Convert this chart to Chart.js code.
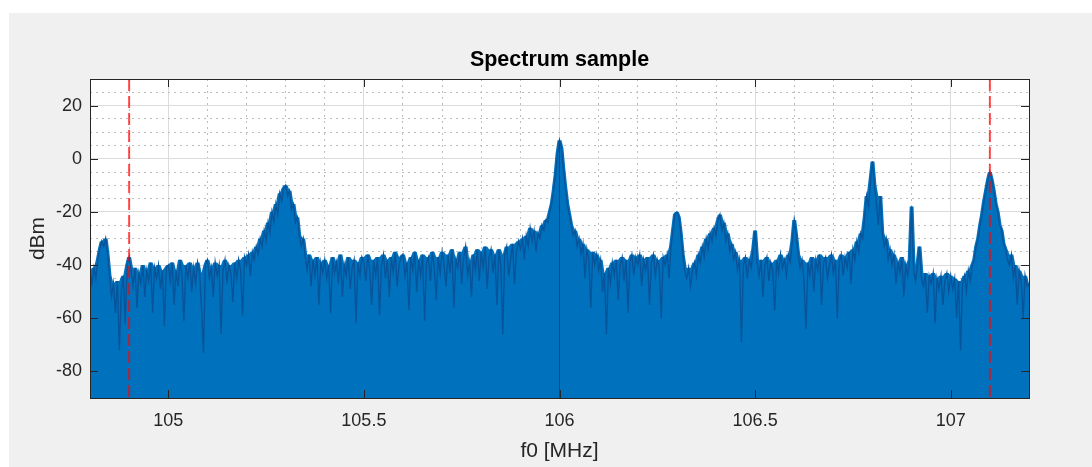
<!DOCTYPE html>
<html>
<head>
<meta charset="utf-8">
<title>Spectrum sample</title>
<script src="https://cdn.jsdelivr.net/npm/chart.js@4.4.1/dist/chart.umd.min.js"></script>
<style>
  html, body { margin: 0; padding: 0; background: #fff; }
  canvas { display: block; }
</style>
</head>
<body>
<canvas id="chart" width="1092" height="467"></canvas>
<script>
// spectrum bins: first bin and bin width in MHz
const freqStart = 104.8;
const freqStep = 0.005;

// power per bin in dBm, one row per 0.1 MHz
const dbm = [
  -42, -47, -41, -45, -38, -34, -31, -33, -30, -36, -44, -52, -47, -58, -46, -72, -50, -44, -62, -40,
  -37, -42, -48, -41, -56, -43, -47, -40, -52, -42, -46, -39, -58, -41, -45, -40, -49, -42, -63, -41,
  -40, -46, -39, -55, -42, -48, -38, -44, -61, -40, -45, -39, -50, -41, -47, -39, -43, -56, -73, -40,
  -38, -45, -41, -52, -39, -44, -40, -66, -42, -38, -47, -40, -43, -54, -39, -45, -38, -42, -59, -37,
  -40, -36, -44, -35, -38, -33, -36, -30, -33, -27, -31, -24, -28, -20, -24, -17, -21, -13, -16, -11,
  -10, -14, -12, -19, -17, -24, -22, -29, -33, -30, -37, -42, -36, -48, -38, -44, -37, -55, -39, -43,
  -38, -45, -40, -58, -37, -43, -39, -47, -36, -52, -40, -44, -37, -49, -41, -38, -62, -39, -44, -37,
  -39, -46, -36, -42, -55, -38, -44, -37, -59, -40, -36, -45, -38, -52, -37, -43, -35, -48, -40, -37,
  -36, -44, -39, -57, -37, -42, -35, -50, -38, -44, -36, -61, -39, -37, -46, -35, -41, -53, -37, -43,
  -35, -40, -48, -36, -43, -34, -56, -38, -41, -35, -47, -37, -33, -44, -39, -52, -36, -42, -34, -46,
  -35, -41, -33, -49, -37, -34, -43, -36, -55, -34, -40, -66, -36, -33, -44, -38, -32, -47, -35, -31,
  -34, -30, -38, -29, -33, -26, -31, -27, -35, -28, -30, -25, -27, -23, -24, -20, -17, -12, -6, 2,
  7, 4, -4, -11, -17, -21, -25, -29, -27, -33, -30, -36, -32, -45, -34, -38, -56, -35, -40, -36,
  -42, -38, -50, -43, -66, -41, -47, -39, -44, -38, -53, -40, -37, -46, -38, -58, -39, -36, -44, -37,
  -40, -36, -48, -38, -42, -37, -55, -39, -36, -44, -38, -41, -60, -37, -40, -36, -45, -33, -27, -21,
  -20, -22, -28, -36, -42, -45, -41, -48, -42, -39, -44, -36, -39, -33, -37, -30, -34, -28, -31, -26,
  -29, -23, -21, -27, -24, -31, -28, -35, -32, -38, -35, -42, -38, -69, -40, -37, -45, -38, -41, -34,
  -27, -39, -44, -38, -52, -40, -37, -46, -39, -42, -57, -38, -43, -36, -41, -38, -44, -36, -39, -31,
  -23, -29, -36, -41, -38, -46, -64, -39, -44, -37, -50, -38, -42, -36, -55, -39, -37, -45, -40, -36,
  -43, -38, -60, -39, -36, -44, -37, -41, -35, -47, -34, -38, -31, -35, -28, -30, -22, -14, -18, -8,
  -1, -10, -17, -25, -14, -28, -33, -30, -38, -34, -40, -36, -47, -39, -43, -37, -52, -40, -44, -38,
  -18, -42, -46, -40, -33, -45, -48, -43, -58, -44, -47, -43, -62, -45, -49, -44, -55, -46, -43, -50,
  -44, -49, -45, -60, -46, -72, -47, -44, -50, -42, -46, -40, -38, -33, -30, -25, -21, -16, -12, -8,
  -5, -8, -12, -17, -20, -25, -27, -32, -34, -38, -40, -36, -45, -40, -55, -42, -46, -60, -44, -48,
  -47
];

// channel edge markers (red dashed) and tuned centre
const markerFreqs = [104.9, 107.1];
const centerFreq = 106.0;

const xRange = [104.8, 107.2];
const yRange = [-90, 30];
const xTicks = [105, 105.5, 106, 106.5, 107];
const yTicks = [-80, -60, -40, -20, 0, 20];
const xMinorStep = 0.1;
const yMinorStep = 5;

const FONT = "'Liberation Sans', Arial, Helvetica, sans-serif";
const TEXT = '#262626';
const TITLE = 'Spectrum sample';

const freqAt = i => +(freqStart + i * freqStep).toFixed(3);
const trace = dbm.map((v, i) => ({ x: freqAt(i), y: v }));
// fill follows the per-pixel peak (max of neighbouring bins), the trace is drawn on top
const peakHold = dbm.map((v, i) => ({
  x: freqAt(i),
  y: Math.max(dbm[i - 1] ?? v, v, dbm[i + 1] ?? v)
}));
const centerIdx = Math.round((centerFreq - freqStart) / freqStep);

function minorTicks(lo, hi, step, majors) {
  const out = [];
  for (let v = lo + step; v < hi - step / 2; v += step) {
    const r = +v.toFixed(3);
    if (!majors.some(m => Math.abs(m - r) < 1e-6)) out.push({ value: r });
  }
  return out;
}

const panelBg = {
  id: 'panelBg',
  beforeDraw(chart) {
    const { ctx, chartArea: a } = chart;
    ctx.save();
    ctx.fillStyle = '#ffffff';
    ctx.fillRect(0, 0, chart.width, chart.height);
    ctx.fillStyle = '#f0f0f0';
    ctx.fillRect(9, 13, chart.width - 9, chart.height - 13);
    ctx.fillStyle = '#ffffff';
    ctx.fillRect(a.left, a.top, a.right - a.left, a.bottom - a.top);
    // title centred over the axes, like matlab
    ctx.fillStyle = '#000';
    ctx.font = 'bold 21.5px ' + FONT;
    ctx.textAlign = 'center';
    ctx.textBaseline = 'alphabetic';
    ctx.fillText(TITLE, (a.left + a.right) / 2, 66);
    ctx.restore();
  }
};

// box with inward ticks on all sides
const axesBox = {
  id: 'axesBox',
  afterDatasetsDraw(chart) {
    const { ctx, chartArea: a, scales } = chart;
    const len = 8;
    ctx.save();
    ctx.strokeStyle = TEXT;
    ctx.lineWidth = 1;
    ctx.beginPath();
    xTicks.forEach(v => {
      const px = Math.round(scales.x.getPixelForValue(v)) + 0.5;
      ctx.moveTo(px, a.bottom); ctx.lineTo(px, a.bottom - len);
      ctx.moveTo(px, a.top); ctx.lineTo(px, a.top + len);
    });
    yTicks.forEach(v => {
      const py = Math.round(scales.y.getPixelForValue(v)) + 0.5;
      ctx.moveTo(a.left, py); ctx.lineTo(a.left + len, py);
      ctx.moveTo(a.right, py); ctx.lineTo(a.right - len, py);
    });
    ctx.stroke();
    ctx.strokeRect(Math.round(a.left) + 0.5, Math.round(a.top) + 0.5,
      Math.round(a.right - a.left), Math.round(a.bottom - a.top));
    ctx.restore();
  }
};

const markerSets = markerFreqs.map(f => ({
  data: [{ x: f, y: yRange[1] }, { x: f, y: yRange[0] }],
  borderColor: 'rgba(255, 0, 0, 0.7)',
  borderWidth: 2,
  borderDash: [12, 5],
  pointRadius: 0,
  fill: false,
  order: 0
}));

new Chart(document.getElementById('chart'), {
  type: 'line',
  data: {
    datasets: [
      ...markerSets,
      {
        data: [{ x: centerFreq, y: yRange[0] }, { x: centerFreq, y: dbm[centerIdx] }],
        borderColor: '#0b4a80',
        borderWidth: 1,
        pointRadius: 0,
        fill: false,
        order: 1
      },
      {
        data: trace,
        borderColor: '#08549a',
        borderWidth: 1.4,
        pointRadius: 0,
        tension: 0,
        fill: false,
        order: 2
      },
      {
        data: peakHold,
        borderWidth: 0,
        borderColor: 'rgba(0,0,0,0)',
        backgroundColor: '#0072bd',
        pointRadius: 0,
        tension: 0,
        fill: 'start',
        order: 3
      }
    ]
  },
  options: {
    responsive: false,
    animation: false,
    devicePixelRatio: 1,
    layout: { padding: { left: 0, right: 63, top: 79, bottom: 0 } },
    plugins: {
      legend: { display: false },
      tooltip: { enabled: false },
      title: { display: false }
    },
    scales: {
      x: {
        type: 'linear',
        min: xRange[0], max: xRange[1],
        afterBuildTicks: s => { s.ticks = xTicks.map(v => ({ value: v })); },
        afterFit: s => { s.height = 69; },
        ticks: {
          color: TEXT,
          font: { family: FONT, size: 18 },
          padding: 12,
          maxRotation: 0,
          autoSkip: false,
          callback: v => String(v)
        },
        grid: { color: '#dcdcdc', lineWidth: 1, drawTicks: false },
        border: { display: false },
        title: {
          display: true,
          text: 'f0 [MHz]',
          color: TEXT,
          font: { family: FONT, size: 21 },
          padding: { top: 0, bottom: 3 }
        }
      },
      xMinor: {
        type: 'linear',
        position: 'bottom',
        min: xRange[0], max: xRange[1],
        afterBuildTicks: s => { s.ticks = minorTicks(xRange[0], xRange[1], xMinorStep, xTicks); },
        afterFit: s => { s.height = 0; },
        ticks: { display: false },
        grid: { color: '#bdbdbd', lineWidth: 1, drawTicks: false },
        border: { display: false, dash: [2, 4] }
      },
      y: {
        type: 'linear',
        min: yRange[0], max: yRange[1],
        afterBuildTicks: s => { s.ticks = yTicks.map(v => ({ value: v })); },
        afterFit: s => { s.width = 90; },
        ticks: {
          color: TEXT,
          font: { family: FONT, size: 18 },
          padding: 8,
          callback: v => String(v)
        },
        grid: { color: '#dcdcdc', lineWidth: 1, drawTicks: false },
        border: { display: false },
        title: {
          display: true,
          text: 'dBm',
          color: TEXT,
          font: { family: FONT, size: 21 },
          padding: { top: 26, bottom: 0 }
        }
      },
      yMinor: {
        type: 'linear',
        position: 'left',
        min: yRange[0], max: yRange[1],
        afterBuildTicks: s => { s.ticks = minorTicks(yRange[0], yRange[1], yMinorStep, yTicks); },
        afterFit: s => { s.width = 0; },
        ticks: { display: false },
        grid: { color: '#bdbdbd', lineWidth: 1, drawTicks: false },
        border: { display: false, dash: [2, 4] }
      }
    }
  },
  plugins: [panelBg, axesBox]
});
</script>
</body>
</html>
